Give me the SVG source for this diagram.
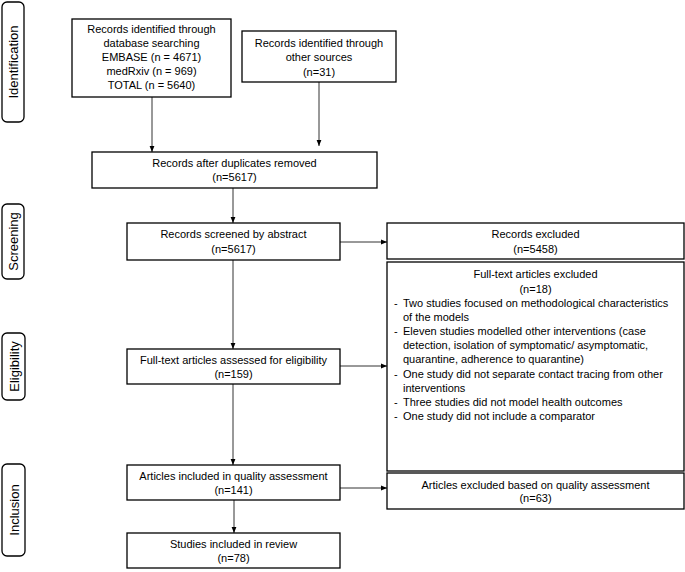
<svg xmlns="http://www.w3.org/2000/svg" width="685" height="572" viewBox="0 0 685 572">
<style>
.box{fill:#fff;stroke:#000;stroke-width:1.3}
.lab{fill:#fff;stroke:#000;stroke-width:1.3}
text{font-family:"Liberation Sans",Arial,sans-serif;font-size:11px;fill:#000}
.c{text-anchor:middle}
.l{font-size:13px;text-anchor:middle}
.ln{stroke:#333;stroke-width:1;fill:none;marker-end:url(#ah)}
</style>
<defs>
<marker id="ah" viewBox="0 0 10 10" refX="10" refY="5" markerUnits="userSpaceOnUse" markerWidth="6" markerHeight="6" orient="auto">
<path d="M0,1 L10,5 L0,9 z" fill="#000"/>
</marker>
</defs>
<rect width="685" height="572" fill="#fff"/>
<g id="phase-identification"><rect class="lab" x="2" y="2" width="22" height="120" rx="5"/><text class="l" transform="translate(18,62) rotate(-90)">Identification</text></g>
<g id="phase-screening"><rect class="lab" x="2" y="204" width="22" height="75" rx="5"/><text class="l" transform="translate(18,241.5) rotate(-90)">Screening</text></g>
<g id="phase-eligibility"><rect class="lab" x="2" y="333" width="23" height="67" rx="5"/><text class="l" transform="translate(18.5,366.5) rotate(-90)">Eligibility</text></g>
<g id="phase-inclusion"><rect class="lab" x="2" y="464" width="23" height="92" rx="5"/><text class="l" transform="translate(18.5,510) rotate(-90)">Inclusion</text></g>

<g id="connectors">
<line class="ln" x1="152" y1="97" x2="152" y2="152"/>
<line class="ln" x1="319" y1="82" x2="319" y2="146"/>
<line class="ln" x1="233" y1="188" x2="233" y2="223"/>
<line class="ln" x1="233" y1="260" x2="233" y2="349"/>
<line class="ln" x1="233" y1="384" x2="233" y2="465"/>
<line class="ln" x1="234" y1="500" x2="234" y2="533"/>
<line class="ln" x1="340" y1="242" x2="387" y2="242"/>
<line class="ln" x1="340" y1="366" x2="387" y2="366"/>
<line class="ln" x1="340" y1="488" x2="387" y2="488"/>
</g>

<g id="db-records"><rect class="box" x="72" y="19" width="159" height="78"/>
<text class="c" x="151.5" y="33">Records identified through</text>
<text class="c" x="151.5" y="47">database searching</text>
<text class="c" x="151.5" y="61">EMBASE (n = 4671)</text>
<text class="c" x="151.5" y="75">medRxiv (n = 969)</text>
<text class="c" x="151.5" y="89">TOTAL (n = 5640)</text></g>

<g id="other-records"><rect class="box" x="242" y="31" width="154" height="51"/>
<text class="c" x="319" y="47">Records identified through</text>
<text class="c" x="319" y="61">other sources</text>
<text class="c" x="319" y="76">(n=31)</text></g>

<g id="dedup"><rect class="box" x="92" y="152" width="285" height="36"/>
<text class="c" x="234.5" y="167">Records after duplicates removed</text>
<text class="c" x="234.5" y="181">(n=5617)</text></g>

<g id="screened"><rect class="box" x="127" y="223" width="213" height="37"/>
<text class="c" x="233.5" y="238">Records screened by abstract</text>
<text class="c" x="233.5" y="253">(n=5617)</text></g>

<g id="excluded"><rect class="box" x="387" y="223" width="297" height="36"/>
<text class="c" x="535.5" y="238">Records excluded</text>
<text class="c" x="535.5" y="253">(n=5458)</text></g>

<g id="fulltext-excluded"><rect class="box" x="387" y="262" width="297" height="209"/>
<text class="c" x="535.5" y="278">Full-text articles excluded</text>
<text class="c" x="535.5" y="293">(n=18)</text>
<text x="394" y="307">-</text><text x="403" y="307">Two studies focused on methodological characteristics</text>
<text x="403" y="321.1">of the models</text>
<text x="394" y="335.2">-</text><text x="403" y="335.2">Eleven studies modelled other interventions (case</text>
<text x="403" y="349.3">detection, isolation of symptomatic/ asymptomatic,</text>
<text x="403" y="363.4">quarantine, adherence to quarantine)</text>
<text x="394" y="377.5">-</text><text x="403" y="377.5">One study did not separate contact tracing from other</text>
<text x="403" y="391.6">interventions</text>
<text x="394" y="405.7">-</text><text x="403" y="405.7">Three studies did not model health outcomes</text>
<text x="394" y="419.8">-</text><text x="403" y="419.8">One study did not include a comparator</text></g>

<g id="fulltext-assessed"><rect class="box" x="127" y="349" width="213" height="35"/>
<text class="c" x="233.5" y="364">Full-text articles assessed for eligibility</text>
<text class="c" x="233.5" y="378">(n=159)</text></g>

<g id="quality"><rect class="box" x="127" y="465" width="213" height="35"/>
<text class="c" x="233.5" y="480">Articles included in quality assessment</text>
<text class="c" x="233.5" y="494">(n=141)</text></g>

<g id="quality-excluded"><rect class="box" x="387" y="473" width="297" height="36"/>
<text class="c" x="535.5" y="489">Articles excluded based on quality assessment</text>
<text class="c" x="535.5" y="502">(n=63)</text></g>

<g id="included"><rect class="box" x="127" y="533" width="213" height="35"/>
<text class="c" x="233.5" y="548">Studies included in review</text>
<text class="c" x="233.5" y="562">(n=78)</text></g>
</svg>
